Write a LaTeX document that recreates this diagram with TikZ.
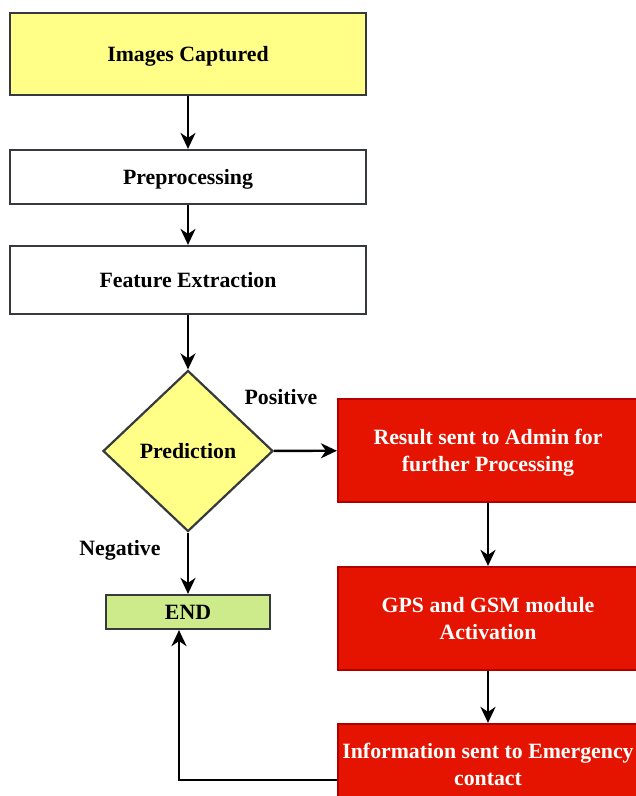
\documentclass[tikz,border=0pt]{standalone}
\usepackage{fontspec}
\setmainfont{Liberation Serif}
\usetikzlibrary{shapes.geometric,arrows.meta}
\definecolor{ylw}{HTML}{FFFF88}
\definecolor{grn}{HTML}{CDEB8B}
\definecolor{redf}{HTML}{E51400}
\definecolor{redd}{HTML}{B20000}
\definecolor{edge}{HTML}{36393D}
\tikzset{
  every node/.style={font=\fontsize{21.8}{27}\selectfont\bfseries, text depth=0pt},
  box/.style={draw=edge, line width=2.2pt, rectangle, inner sep=0pt, align=center},
  redbox/.style={draw=redd, fill=redf, line width=2.2pt, rectangle, inner sep=0pt, align=center, text=white, minimum width=300pt},
  arr/.style={draw=black, line width=2.4pt, -{Stealth[length=16pt,width=15pt,inset=5pt]}},
  lbl/.style={inner sep=0pt}
}
\begin{document}
\begin{tikzpicture}[x=1pt,y=-1pt]
\useasboundingbox (0,0) rectangle (636,796);
\clip (0,0) rectangle (636,796);
\node[box, fill=ylw, minimum width=356pt, minimum height=82pt] (img) at (188,54) {Images Captured};
\node[box, fill=white, minimum width=356pt, minimum height=54pt] (pre) at (188,177) {Preprocessing};
\node[box, fill=white, minimum width=356pt, minimum height=68pt] (fe) at (188,280) {Feature Extraction};
\node[diamond, draw=edge, fill=ylw, line width=2.2pt, inner sep=0pt, minimum width=170pt, minimum height=161pt] (pred) at (188,451) {Prediction};
\node[redbox, minimum height=103pt] (res) at (488,450.5) {Result sent to Admin for\\further Processing};
\node[redbox, minimum height=103pt] (gps) at (488,618.5) {GPS and GSM module\\Activation};
\node[redbox, minimum height=80pt] (info) at (488,764) {Information sent to Emergency\\contact};
\node[box, fill=grn, minimum width=164pt, minimum height=34pt] (end) at (188,612) {END};
\node[lbl] (pos) at (281,397) {Positive};
\node[lbl] (neg) at (120,548) {Negative};
\coordinate (bend) at (179,780);
\draw[arr] (img) -- (pre);
\draw[arr] (pre) -- (fe);
\draw[arr] (fe) -- (pred);
\draw[arr] (pred) -- (res);
\draw[arr] (pred) -- (end);
\draw[arr] (res) -- (gps);
\draw[arr] (gps) -- (info);
\draw[arr] (info.west |- bend) -- (bend) -- (end.south -| bend);
\end{tikzpicture}
\end{document}
